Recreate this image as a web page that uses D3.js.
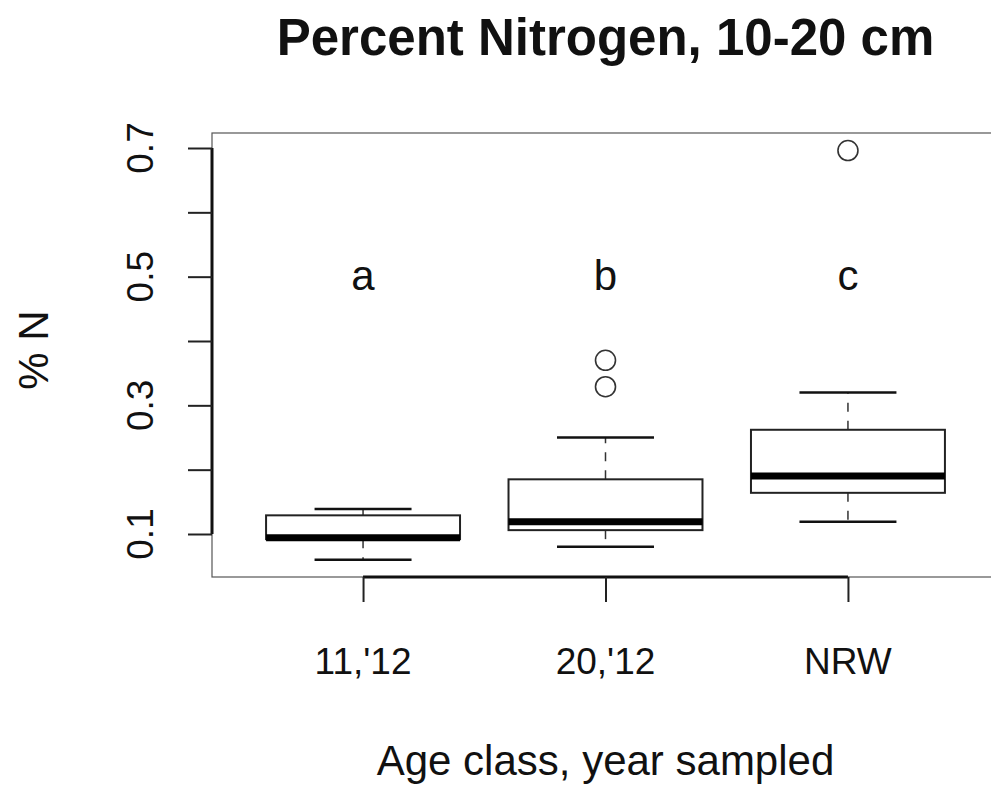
<!DOCTYPE html>
<html>
<head>
<meta charset="utf-8">
<script src="https://cdn.jsdelivr.net/npm/d3@7"></script>
<style>
  body { margin: 0; background: #fff; }
  text { font-family: "Liberation Sans", Arial, Helvetica, sans-serif; fill: #111; }
</style>
</head>
<body>
<div id="chart"></div>
<script>
// values
var categories = ["11,'12", "20,'12", "NRW"];
var whiskLo = [0.060, 0.080, 0.119];
var q1 = [0.092, 0.106, 0.164];
var medians = [0.094, 0.119, 0.190];
var q3 = [0.129, 0.185, 0.262];
var whiskHi = [0.139, 0.250, 0.320];
var outliers = [[], [0.329, 0.370], [0.696]];
var letters = ["a", "b", "c"];
var yTicks = [0.1, 0.2, 0.3, 0.4, 0.5, 0.6, 0.7];
var yLabelled = [0.1, 0.3, 0.5, 0.7];

var width = 991, height = 786;
var plot = {left: 212, right: 999, top: 133, bottom: 577};

var svg = d3.select("#chart").append("svg")
  .attr("width", width)
  .attr("height", height);

// R style: boxes at 1..n, xlim a bit wider than 0.5..3.5
var x = d3.scaleLinear()
  .domain([0.377, 3.623])
  .range([plot.left, plot.right]);

var y = d3.scaleLinear()
  .domain([0.1, 0.7])
  .range([534, 148]);

// plot frame (thin)
svg.append("rect")
  .attr("x", plot.left)
  .attr("y", plot.top)
  .attr("width", plot.right - plot.left)
  .attr("height", plot.bottom - plot.top)
  .attr("fill", "none")
  .attr("stroke", "#555")
  .attr("stroke-width", 1.2);

// y axis
var yAxis = svg.append("g")
  .attr("transform", "translate(" + plot.left + ",0)")
  .call(d3.axisLeft(y).tickValues(yTicks).tickSize(24).tickFormat(""));
yAxis.select(".domain")
  .attr("d", "M0," + y(0.1) + "V" + y(0.7))
  .attr("stroke", "#111").attr("stroke-width", 3);
yAxis.selectAll(".tick line").attr("stroke", "#222").attr("stroke-width", 2);

svg.selectAll(".ylab")
  .data(yLabelled)
  .enter().append("text")
  .attr("class", "ylab")
  .attr("transform", function(d) { return "translate(153," + y(d) + ") rotate(-90)"; })
  .attr("text-anchor", "middle")
  .style("font-size", "37px")
  .text(function(d) { return d3.format(".1f")(d); });

// x axis
var xAxis = svg.append("g")
  .attr("transform", "translate(0," + plot.bottom + ")")
  .call(d3.axisBottom(x).tickValues([1, 2, 3]).tickSize(25).tickFormat(""));
xAxis.select(".domain")
  .attr("d", "M" + x(1) + ",0H" + x(3))
  .attr("stroke", "#111").attr("stroke-width", 3);
xAxis.selectAll(".tick line").attr("stroke", "#222").attr("stroke-width", 2);

svg.selectAll(".xlab")
  .data(categories)
  .enter().append("text")
  .attr("class", "xlab")
  .attr("x", function(d, i) { return x(i + 1); })
  .attr("y", 674)
  .attr("text-anchor", "middle")
  .style("font-size", "37px")
  .text(function(d) { return d; });

// boxes
var g = svg.selectAll(".box")
  .data(categories)
  .enter().append("g")
  .attr("class", "box");

// dashed whiskers
g.append("line")
  .attr("x1", function(d, i) { return x(i + 1); })
  .attr("x2", function(d, i) { return x(i + 1); })
  .attr("y1", function(d, i) { return y(q3[i]); })
  .attr("y2", function(d, i) { return y(whiskHi[i]); })
  .attr("stroke", "#333").attr("stroke-width", 1.5).attr("stroke-dasharray", "9,9");
g.append("line")
  .attr("x1", function(d, i) { return x(i + 1); })
  .attr("x2", function(d, i) { return x(i + 1); })
  .attr("y1", function(d, i) { return y(q1[i]); })
  .attr("y2", function(d, i) { return y(whiskLo[i]); })
  .attr("stroke", "#333").attr("stroke-width", 1.5).attr("stroke-dasharray", "9,9");

// staples
g.append("line")
  .attr("x1", function(d, i) { return x(i + 1 - 0.2); })
  .attr("x2", function(d, i) { return x(i + 1 + 0.2); })
  .attr("y1", function(d, i) { return y(whiskHi[i]); })
  .attr("y2", function(d, i) { return y(whiskHi[i]); })
  .attr("stroke", "#111").attr("stroke-width", 2.5);
g.append("line")
  .attr("x1", function(d, i) { return x(i + 1 - 0.2); })
  .attr("x2", function(d, i) { return x(i + 1 + 0.2); })
  .attr("y1", function(d, i) { return y(whiskLo[i]); })
  .attr("y2", function(d, i) { return y(whiskLo[i]); })
  .attr("stroke", "#111").attr("stroke-width", 2.5);

g.append("rect")
  .attr("x", function(d, i) { return x(i + 1 - 0.4); })
  .attr("width", x(1.4) - x(0.6))
  .attr("y", function(d, i) { return y(q3[i]); })
  .attr("height", function(d, i) { return y(q1[i]) - y(q3[i]); })
  .attr("fill", "#fff")
  .attr("stroke", "#222").attr("stroke-width", 2);

g.append("line")
  .attr("x1", function(d, i) { return x(i + 1 - 0.4); })
  .attr("x2", function(d, i) { return x(i + 1 + 0.4); })
  .attr("y1", function(d, i) { return y(medians[i]); })
  .attr("y2", function(d, i) { return y(medians[i]); })
  .attr("stroke", "#000").attr("stroke-width", 7);

// outliers
svg.selectAll(".out")
  .data(outliers.flatMap(function(v, i) { return v.map(function(o) { return {i: i, v: o}; }); }))
  .enter().append("circle")
  .attr("class", "out")
  .attr("cx", function(d) { return x(d.i + 1); })
  .attr("cy", function(d) { return y(d.v); })
  .attr("r", 10)
  .attr("fill", "none")
  .attr("stroke", "#333").attr("stroke-width", 1.6);

// group letters
svg.selectAll(".letter")
  .data(letters)
  .enter().append("text")
  .attr("class", "letter")
  .attr("x", function(d, i) { return x(i + 1); })
  .attr("y", y(0.5) + 13)
  .attr("text-anchor", "middle")
  .style("font-size", "42px")
  .text(function(d) { return d; });

// titles
svg.append("text")
  .attr("x", (plot.left + plot.right) / 2)
  .attr("y", 55)
  .attr("text-anchor", "middle")
  .style("font-size", "51px")
  .style("font-weight", "bold")
  .text("Percent Nitrogen, 10-20 cm");

svg.append("text")
  .attr("x", (plot.left + plot.right) / 2)
  .attr("y", 775)
  .attr("text-anchor", "middle")
  .style("font-size", "42px")
  .text("Age class, year sampled");

svg.append("text")
  .attr("transform", "translate(48,350) rotate(-90)")
  .attr("text-anchor", "middle")
  .style("font-size", "42px")
  .text("% N");
</script>
</body>
</html>
